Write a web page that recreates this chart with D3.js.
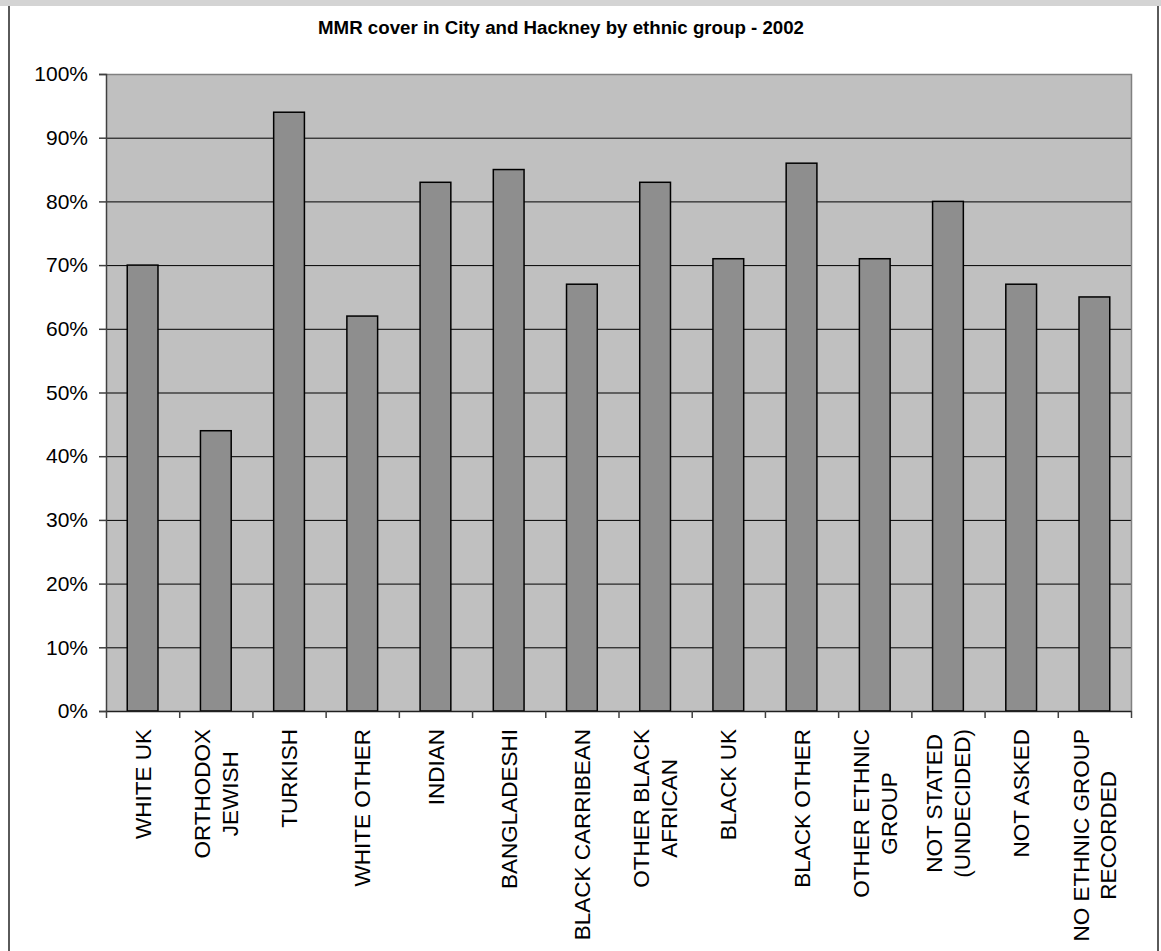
<!DOCTYPE html>
<html>
<head>
<meta charset="utf-8">
<script src="https://cdn.jsdelivr.net/npm/d3@7"></script>
<style>
  body { margin: 0; background: #fff; }
  svg { display: block; font-family: "Liberation Sans", Arial, sans-serif; }
</style>
</head>
<body>
<svg id="chart" width="1161" height="951"></svg>
<script>
// chart data
const categories = [
    "WHITE UK",
    "ORTHODOX\nJEWISH",
    "TURKISH",
    "WHITE OTHER",
    "INDIAN",
    "BANGLADESHI",
    "BLACK CARRIBEAN",
    "OTHER BLACK\nAFRICAN",
    "BLACK UK",
    "BLACK OTHER",
    "OTHER ETHNIC\nGROUP",
    "NOT STATED\n(UNDECIDED)",
    "NOT ASKED",
    "NO ETHNIC GROUP\nRECORDED"
];
const cover = [70, 44, 94, 62, 83, 85, 67, 83, 71, 86, 71, 80, 67, 65];
const yTicks = [0, 10, 20, 30, 40, 50, 60, 70, 80, 90, 100];
const title = "MMR cover in City and Hackney by ethnic group - 2002";

const svg = d3.select("#chart");

// frame of the chart object
svg.append("rect")
    .attr("x", 0).attr("y", 0)
    .attr("width", 1161).attr("height", 6)
    .attr("fill", "#d4d4d4");
svg.append("line")
    .attr("x1", 9).attr("x2", 9)
    .attr("y1", 6).attr("y2", 951)
    .attr("stroke", "#5a5a5a").attr("stroke-width", 2);
svg.append("line")
    .attr("x1", 1158).attr("x2", 1158)
    .attr("y1", 6).attr("y2", 951)
    .attr("stroke", "#5a5a5a").attr("stroke-width", 2);

const plot = { left: 106, right: 1131, top: 74, bottom: 711 };

const x = d3.scaleBand()
    .domain(categories)
    .range([plot.left, plot.right]);

const y = d3.scaleLinear()
    .domain([0, 100])
    .range([plot.bottom, plot.top]);

// plot area background
svg.append("rect")
    .attr("x", plot.left).attr("y", plot.top)
    .attr("width", plot.right - plot.left)
    .attr("height", plot.bottom - plot.top)
    .attr("fill", "#c0c0c0");

// gridlines
svg.append("g")
    .selectAll("line")
    .data(yTicks.filter((d) => d > 0 && d < 100))
    .enter()
    .append("line")
    .attr("x1", plot.left).attr("x2", plot.right)
    .attr("y1", (d) => y(d) + 0.5).attr("y2", (d) => y(d) + 0.5)
    .attr("stroke", "#000").attr("stroke-width", 1);

// plot border (top / right in gray)
svg.append("path")
    .attr("d", `M${plot.left},${plot.top + 0.5}H${plot.right + 0.5}V${plot.bottom}`)
    .attr("fill", "none")
    .attr("stroke", "#808080").attr("stroke-width", 1.5);

// bars
const barW = x.bandwidth() * 0.42;
svg.append("g")
    .selectAll("rect")
    .data(categories)
    .enter()
    .append("rect")
    .attr("x", (d) => x(d) + (x.bandwidth() - barW) / 2)
    .attr("y", (d, i) => y(cover[i]))
    .attr("width", barW)
    .attr("height", (d, i) => y(0) - y(cover[i]))
    .attr("fill", "#8e8e8e")
    .attr("stroke", "#000")
    .attr("stroke-width", 1.5);

// y axis
const yAxis = svg.append("g")
    .attr("transform", `translate(${plot.left},0)`)
    .call(d3.axisLeft(y).tickValues(yTicks).tickSize(7).tickPadding(11)
        .tickFormat((d) => d + "%"));
yAxis.select(".domain").attr("stroke", "#404040").attr("stroke-width", 1.5);
yAxis.selectAll(".tick line").attr("stroke", "#404040").attr("stroke-width", 1.5);
yAxis.selectAll(".tick text")
    .attr("fill", "#000")
    .style("font-size", "21px")
    .style("font-family", "'Liberation Sans', Arial, sans-serif");

// x axis
const xAxis = svg.append("g")
    .attr("transform", `translate(0,${plot.bottom})`);
xAxis.append("line")
    .attr("x1", plot.left).attr("x2", plot.right + 0.5)
    .attr("y1", 0.5).attr("y2", 0.5)
    .attr("stroke", "#202020").attr("stroke-width", 1.5);
const edges = categories.map((d) => x(d)).concat([plot.right]);
xAxis.selectAll(".xtick")
    .data(edges)
    .enter()
    .append("line")
    .attr("class", "xtick")
    .attr("x1", (d) => d + 0.5).attr("x2", (d) => d + 0.5)
    .attr("y1", 0).attr("y2", 7)
    .attr("stroke", "#404040").attr("stroke-width", 1.5);

// rotated category labels, lines centred on each other
const labelTop = 729;
const lineGap = 28;
categories.forEach((cat) => {
    const lines = cat.split("\n");
    const g = svg.append("g")
        .attr("transform", `translate(${x(cat) + x.bandwidth() / 2},0)`);
    const t = g.append("text")
        .attr("transform", "rotate(-90)")
        .attr("text-anchor", "middle")
        .style("font-size", "22.5px")
        .attr("fill", "#000");
    const spans = t.selectAll("tspan")
        .data(lines)
        .enter()
        .append("tspan")
        .attr("y", (d, i) => (i - (lines.length - 1) / 2) * lineGap)
        .attr("dy", "0.36em")
        .text((d) => d);
    let maxLen = 0;
    spans.each(function () { maxLen = Math.max(maxLen, this.getComputedTextLength()); });
    spans.attr("x", -(labelTop + maxLen / 2));
});

// title
svg.append("text")
    .attr("x", 561)
    .attr("y", 34)
    .attr("text-anchor", "middle")
    .style("font-size", "18.7px")
    .style("font-weight", "bold")
    .text(title);
</script>
</body>
</html>
